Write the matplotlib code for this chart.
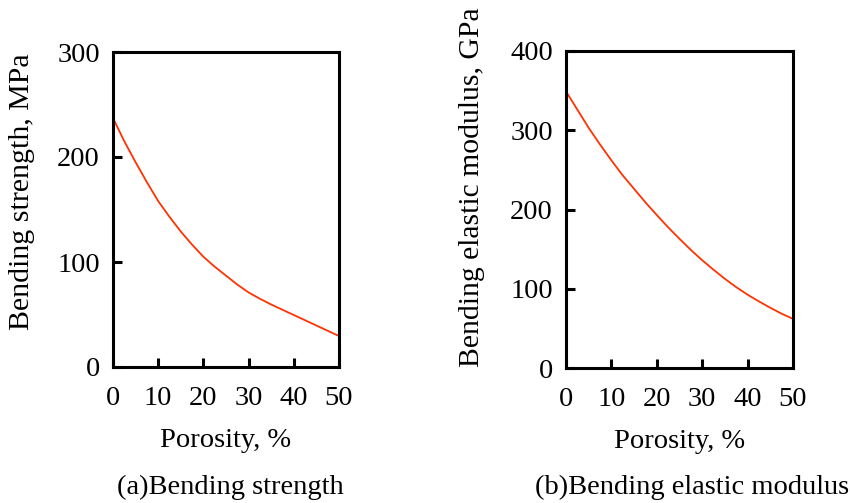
import numpy as np
import matplotlib.pyplot as plt

# Porosity (%) and values
porosity = [0, 2.5, 5, 7.5, 10, 12.5, 15, 17.5, 20, 22.5, 25,
            27.5, 30, 32.5, 35, 37.5, 40, 42.5, 45, 47.5, 50]
strength = [237, 215, 195, 176, 158, 143, 129, 116.5, 105, 95.5, 87,
            78.5, 71, 65, 59.5, 54.5, 49.5, 44.5, 39.5, 34.5, 29.5]   # MPa
modulus = [349, 326, 303, 282, 262, 243, 226, 209, 193, 177.5, 163,
           149, 136, 124, 112.5, 102, 92.5, 84, 76, 68.5, 62]        # GPa

x_ticks = [0, 10, 20, 30, 40, 50]
ticks_a = [0, 100, 200, 300]
ticks_b = [0, 100, 200, 300, 400]


def style_axes(ax, yticks):
    for s in ax.spines.values():
        s.set_linewidth(2.2)
    ax.set_xlim(0, 50)
    ax.set_ylim(yticks[0], yticks[-1])
    ax.set_xticks(x_ticks)
    ax.set_yticks(yticks)
    ax.tick_params(direction='in', length=6.5, width=2.2, labelsize=20.5)
    ax.tick_params(axis='x', pad=14)
    ax.tick_params(axis='y', pad=9.5)


def main():
    plt.rcParams['font.family'] = 'Liberation Serif'
    plt.rcParams['font.size'] = 20.5

    fig = plt.figure(figsize=(8.5, 5.03), dpi=100)

    ax1 = fig.add_axes([113/850, 1-367/503, 226/850, 315/503])
    ax1.plot(porosity, strength, color='#ff3300', lw=1.3)
    style_axes(ax1, ticks_a)
    ax1.set_xlabel('Porosity, %', labelpad=12)
    ax1.set_ylabel('Bending strength, MPa', fontsize=21.5)
    ax1.yaxis.set_label_coords(-0.345, 0.556)

    ax2 = fig.add_axes([566/850, 1-368/503, 227/850, 317/503])
    ax2.plot(porosity, modulus, color='#ff3300', lw=1.3)
    style_axes(ax2, ticks_b)
    ax2.set_xlabel('Porosity, %', labelpad=12)
    ax2.set_ylabel('Bending elastic modulus, GPa', fontsize=21.3)
    ax2.yaxis.set_label_coords(-0.357, 0.571)

    fig.text(230/850, 1-487/503, '(a)Bending strength', ha='center', va='center')
    fig.text(692/850, 1-487/503, '(b)Bending elastic modulus', ha='center', va='center')

    fig.savefig('out.png', dpi=100)


if __name__ == '__main__':
    main()
